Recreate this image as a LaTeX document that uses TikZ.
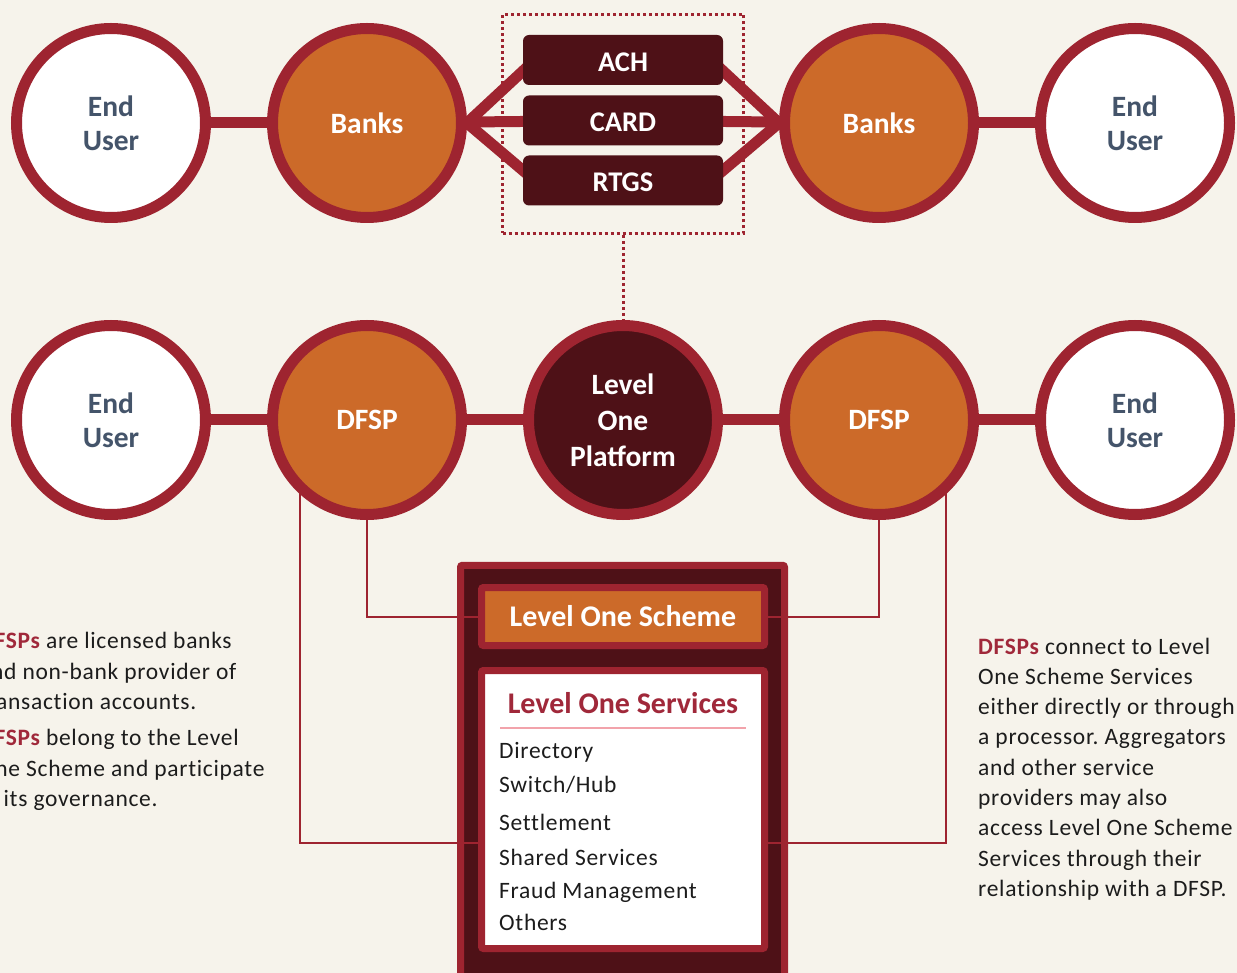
\documentclass[tikz,border=0pt]{standalone}
\usepackage{fontspec}
\setmainfont{Carlito}
\newfontfamily\bodyfont[LetterSpace=3,Ligatures=NoCommon]{Carlito}
\usetikzlibrary{calc}

\definecolor{paper}{HTML}{F6F3EB}
\definecolor{crimson}{HTML}{9E2430}
\definecolor{ochre}{HTML}{CC6A29}
\definecolor{wine}{HTML}{4E1117}
\definecolor{slate}{HTML}{44546A}
\definecolor{titlered}{HTML}{A0283A}
\definecolor{rosy}{HTML}{F2A3AB}
\definecolor{ink}{HTML}{1C1C1C}

\pgfdeclarelayer{background}
\pgfsetlayers{background,main}

\begin{document}
\frenchspacing
\begin{tikzpicture}[x=1pt,y=-1pt,
  ring/.style={circle,draw=crimson,line width=11pt,minimum size=189pt,inner sep=0pt,
    align=center,font=\fontsize{29.5}{34}\selectfont\bfseries},
  enduser/.style={ring,fill=white,text=slate},
  bank/.style={ring,fill=ochre,text=white},
  hub/.style={ring,fill=wine,text=white,font=\fontsize{29.5}{36}\selectfont\bfseries},
  link/.style={draw=crimson,line width=11pt},
  railbox/.style={rectangle,rounded corners=6pt,fill=wine,text=white,inner sep=0pt,
    text height=22.5pt,text depth=0pt,
    minimum width=200pt,minimum height=50pt,font=\fontsize{28.5}{28.5}\selectfont\bfseries},
  frame/.style={draw=crimson,line width=3pt,dash pattern=on 3pt off 3pt},
  feed/.style={draw=crimson,line width=2pt},
  panel/.style={rectangle,draw=crimson,line width=7pt,rounded corners=2pt,
    minimum width=283pt,inner sep=0pt},
  item/.style={anchor=west,inner sep=0pt,text=ink,font=\bodyfont\fontsize{23.5}{23.5}\selectfont},
  note/.style={anchor=west,align=left,inner sep=0pt,text=ink,
    font=\bodyfont\fontsize{23.5}{30.3}\selectfont}
]
\useasboundingbox (0,0) rectangle (1237,973);
\clip (0,0) rectangle (1237,973);

% top row: end users and banks
\node[enduser] (eu1) at (111,123) {End\\User};
\node[bank]    (bk1) at (367,123) {Banks};
\node[bank]    (bk2) at (879,123) {Banks};
\node[enduser] (eu2) at (1135,123) {End\\User};

% payment rails
\node[railbox] (ach)  at (623,60)    {ACH};
\node[railbox] (card) at (623,120.5) {CARD};
\node[railbox] (rtgs) at (623,180.5) {RTGS};
\node[frame,rectangle,inner sep=0pt,minimum width=241pt,minimum height=219pt] (rails) at (623,124) {};

% middle row: DFSPs around the platform
\node[enduser] (eu3)   at (111,420)  {End\\User};
\node[bank]    (dfsp1) at (367,420)  {DFSP};
\node[hub]     (lop)   at (623,420)  {Level\\One\\Platform};
\node[bank]    (dfsp2) at (879,420)  {DFSP};
\node[enduser] (eu4)   at (1135,420) {End\\User};

\draw[frame] (rails.south) -- (lop.north);

% scheme panel contents
\node[panel,fill=ochre,minimum height=58pt,text=white,
      font=\fontsize{30}{30}\selectfont\bfseries] (los) at (623,616.5) {Level One Scheme};
\node[panel,fill=white,minimum height=278pt] (services) at (623,809.5) {};
\node[text=titlered,inner sep=0pt,font=\fontsize{30}{30}\selectfont\bfseries] (svtitle) at (623,703) {Level One Services};
\draw[rosy,line width=2.5pt] (500,728) -- (746,728);
\node[item] (s1) at (499,752) {Directory};
\node[item] (s2) at (499,785) {Switch/Hub};
\node[item] (s3) at (499,822) {Settlement};
\node[item] (s4) at (499,857) {Shared Services};
\node[item] (s5) at (499,892) {Fraud Management};
\node[item] (s6) at (499,922) {Others};

% side notes
\node[note] (n1) at (-21,671) {{\bfseries\color{titlered}DFSPs} are licensed banks\\and non-bank provider of\\transaction accounts.};
\node[note] (n2) at (-21,770) {{\bfseries\color{titlered}DFSPs} belong to the Level\\One Scheme and participate\\in its governance.};
\node[note] (n3) at (978,769) {{\bfseries\color{titlered}DFSPs} connect to Level\\One Scheme Services\\either directly or through\\a processor. Aggregators\\and other service\\providers may also\\access Level One Scheme\\Services through their\\relationship with a DFSP.};

\begin{pgfonlayer}{background}
  \fill[paper] (0,0) rectangle (1237,973);
  \node[rectangle,draw=crimson,fill=wine,line width=7pt,rounded corners=2pt,inner sep=0pt,
        minimum width=324pt,minimum height=435pt] (scheme) at (622.5,782.75) {};
  % thick links between participants
  \draw[link] (eu1) -- (bk1);
  \draw[link] (bk2) -- (eu2);
  \draw[link] (eu3) -- (dfsp1);
  \draw[link] (dfsp1) -- (lop);
  \draw[link] (lop) -- (dfsp2);
  \draw[link] (dfsp2) -- (eu4);
  \draw[link] (bk1.center) -- (card.center) -- (bk2.center);
  \draw[link] (bk1.east) -- ([xshift=12pt]ach.west);
  \draw[link] (bk1.east) -- ([xshift=12pt]rtgs.west);
  \draw[link] (bk2.west) -- ([xshift=-12pt]ach.east);
  \draw[link] (bk2.west) -- ([xshift=-12pt]rtgs.east);
  % thin feeds from DFSPs into the scheme
  \draw[feed] (dfsp1.center) |- (los.west);
  \draw[feed] (dfsp2.center) |- (los.east);
  \draw[feed] ([xshift=-67pt]dfsp1.center) |- ([yshift=-33.5pt]services.west);
  \draw[feed] ([xshift=67pt]dfsp2.center) |- ([yshift=-33.5pt]services.east);
\end{pgfonlayer}
\end{tikzpicture}
\end{document}
